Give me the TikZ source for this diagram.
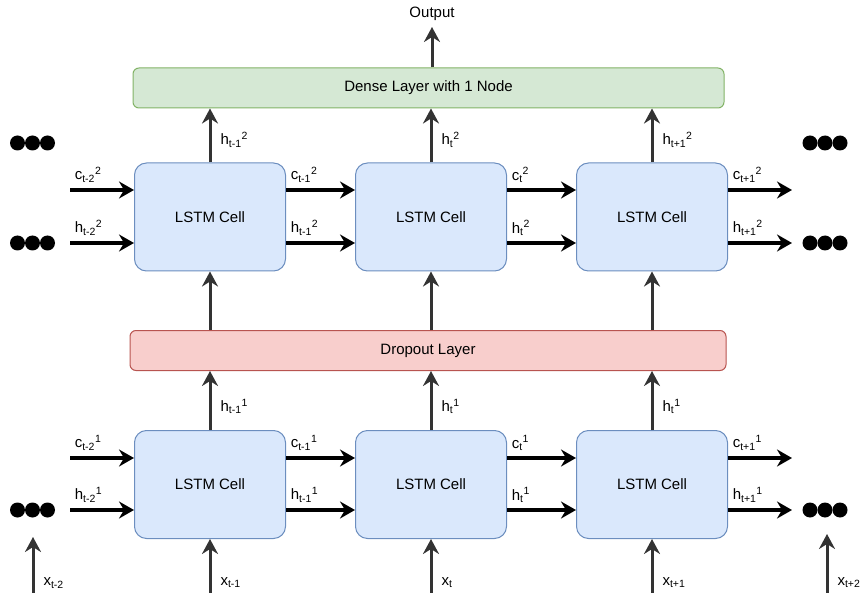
\documentclass[tikz,border=0pt]{standalone}
\usepackage{xcolor}
\usepackage{fontspec}
\setmainfont{Liberation Sans}
\usepackage{tikz}
\usetikzlibrary{arrows.meta,calc}

\definecolor{cellfill}{HTML}{DAE8FC}
\definecolor{cellline}{HTML}{6C8EBF}
\definecolor{densefill}{HTML}{D5E8D4}
\definecolor{denseline}{HTML}{82B366}
\definecolor{dropfill}{HTML}{F8CECC}
\definecolor{dropline}{HTML}{B85450}
\definecolor{upgrey}{HTML}{333333}

\newcommand{\clab}[2]{c\textsubscript{#1}\textsuperscript{#2}}
\newcommand{\hlab}[2]{h\textsubscript{#1}\textsuperscript{#2}}
\newcommand{\xlab}[1]{x\textsubscript{#1}}

\tikzset{
	cell/.style={draw=cellline,fill=cellfill,line width=1pt,rounded corners=12pt,
		minimum width=151pt,minimum height=108pt,font=\fontsize{15}{17}\selectfont},
	layer/.style={line width=1pt,rounded corners=6pt,minimum height=40pt,
		font=\fontsize{15}{17}\selectfont},
	flow/.style={line width=3.5pt,-{Stealth[length=15pt,width=17pt,inset=5pt]}},
	up/.style={line width=3pt,draw=upgrey,-{Stealth[length=15pt,width=16pt,inset=5pt]},
		color=upgrey},
	lbl/.style={inner sep=0pt,text=black,font=\fontsize{15}{17}\selectfont},
}

\begin{document}
\begin{tikzpicture}[x=1pt,y=-1pt]
			\useasboundingbox (0,0) rectangle (861,593);
			% layers
			\node[layer,draw=denseline,fill=densefill,minimum width=591pt] (dense) at (428.5,88) {Dense Layer with 1 Node};
			\node[layer,draw=dropline,fill=dropfill,minimum width=596pt] (drop) at (428,350.5) {Dropout Layer};
			% cells, plus loose ends left and right
			\foreach \i/\x in {1/210,2/431,3/652}{
				\node[cell] (top\i) at (\x,217) {LSTM Cell};
				\node[cell] (bot\i) at (\x,484.5) {LSTM Cell};
			}
			\coordinate (top0) at (70,217);
			\coordinate (bot0) at (70,484.5);
			\coordinate (top4) at (792,217);
			\coordinate (bot4) at (792,484.5);
			% cell state and hidden state along each row
			\foreach \i/\j/\s in {0/1/t-2,1/2/t-1,2/3/t,3/4/t+1}{
				\draw[flow] ([yshift=27pt]top\i.east) -- ([yshift=27pt]top\j.west)
					node[lbl,pos=0,anchor=south west,xshift=3pt,yshift=6pt]{\clab{\s}{2}};
				\draw[flow] ([yshift=-26pt]top\i.east) -- ([yshift=-26pt]top\j.west)
					node[lbl,pos=0,anchor=south west,xshift=3pt,yshift=6pt]{\hlab{\s}{2}};
				\draw[flow] ([yshift=26.5pt]bot\i.east) -- ([yshift=26.5pt]bot\j.west)
					node[lbl,pos=0,anchor=south west,xshift=3pt,yshift=6pt]{\clab{\s}{1}};
				\draw[flow] ([yshift=-25.5pt]bot\i.east) -- ([yshift=-25.5pt]bot\j.west)
					node[lbl,pos=0,anchor=south west,xshift=3pt,yshift=6pt]{\hlab{\s}{1}};
			}
			% upward flow
			\foreach \i/\s/\v in {1/t-1/t-1,2/t/t,3/t+1/t}{
				\draw[up] (top\i.north) -- (top\i.north |- dense.south)
					node[lbl,pos=0.42,anchor=west,xshift=9pt]{\hlab{\s}{2}};
				\draw[up] (drop.north -| top\i) -- (top\i.south);
				\draw[up] (bot\i.north) -- (bot\i.north |- drop.south)
					node[lbl,pos=0.4,anchor=west,xshift=9pt]{\hlab{\v}{1}};
				\coordinate (x\i) at (top\i |- 0,596);
				\draw[up] (x\i) -- (bot\i.south)
					node[lbl,pos=0.24,anchor=west,xshift=9pt]{\xlab{\s}};
			}
			\coordinate (x0) at (33,596);
			\coordinate (x0top) at (33,537);
			\draw[up] (x0) -- (x0top) node[lbl,pos=0.22,anchor=west,xshift=9pt]{\xlab{t-2}};
			\coordinate (x4) at (827,596);
			\coordinate (x4top) at (827,534);
			\draw[up] (x4) -- (x4top) node[lbl,pos=0.22,anchor=west,xshift=9pt]{\xlab{t+2}};
			\coordinate (out) at (432,27);
			\draw[up] (dense.north -| out) -- (out) node[lbl,anchor=south,yshift=5pt]{Output};
			% dots
			\foreach \y in {143,243,510}{
				\foreach \x in {17.5,32.5,47.5}{
					\fill (\x,\y) circle (7.5pt);
				}
			}
			\foreach \y in {143,243,510}{
				\foreach \x in {810,825,840}{
					\fill (\x,\y) circle (7.5pt);
				}
			}
		\end{tikzpicture}
\end{document}
